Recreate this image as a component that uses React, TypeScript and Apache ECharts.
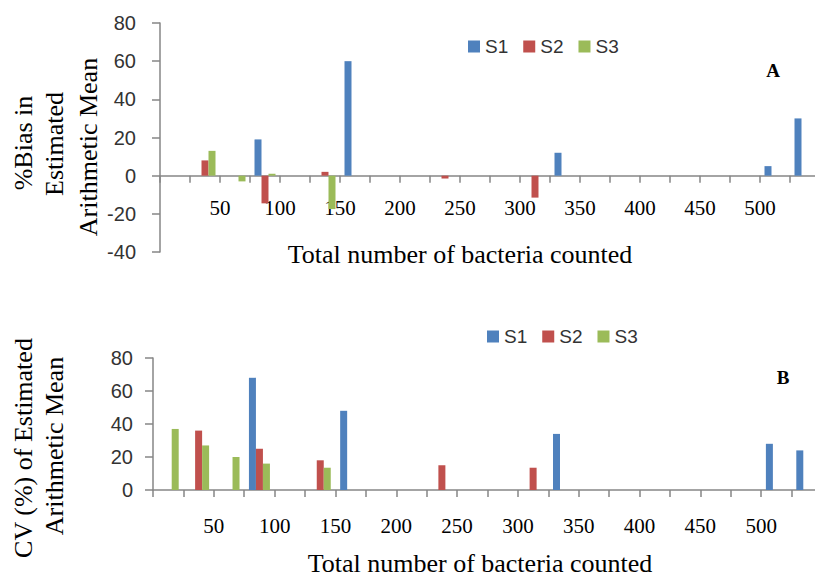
import React, { useEffect, useRef } from "react";
import * as echarts from "echarts";

// 22 equal-width count bins (hidden category labels)
const bins = ["1", "2", "3", "4", "5", "6", "7", "8", "9", "10", "11", "12", "13", "14", "15", "16", "17", "18", "19", "20", "21", "22"];

// Panel A: %Bias in estimated arithmetic mean
const biasS1 = [null, null, null, 19, null, null, 60, null, null, null, null, null, null, 12, null, null, null, null, null, null, 5, 30];
const biasS2 = [null, 8, null, -14.5, null, 2, null, null, null, -1.5, null, null, -11.5, null, null, null, null, null, null, null, null, null];
const biasS3 = [null, 13, -3, 1, null, -17.5, null, null, null, null, null, null, null, null, null, null, null, null, null, null, null, null];

// Panel B: CV (%) of estimated arithmetic mean
const cvS1 = [null, null, null, 68, null, null, 48, null, null, null, null, null, null, 34, null, null, null, null, null, null, 28, 24];
const cvS2 = [null, 36, null, 25, null, 18, null, null, null, 15, null, null, 13.5, null, null, null, null, null, null, null, null, null];
const cvS3 = [37, 27, 20, 16, null, 13.5, null, null, null, null, null, null, null, null, null, null, null, null, null, null, null, null];

// Count tick labels shown below each panel
const countLabels = [50, 100, 150, 200, 250, 300, 350, 400, 450, 500];
const seriesNames = ["S1", "S2", "S3"];
const colors = ["#4F81BD", "#C0504D", "#9BBB59"];

const AXIS = "#868686";
const SERIF = "'Liberation Serif', 'Times New Roman', serif";
const SANS = "'Liberation Sans', Arial, sans-serif";

export default function App() {
  const ref = useRef<HTMLDivElement>(null);
  useEffect(() => {
    if (!ref.current) return;
    const chart = echarts.init(ref.current, null, { renderer: "svg" });

    const catAxis = (gridIndex: number) => ({
      type: "category",
      gridIndex,
      data: bins,
      position: "bottom",
      axisLine: { show: true, onZero: true, lineStyle: { color: AXIS, width: 1.5 } },
      axisTick: { show: true, length: 7, lineStyle: { color: AXIS, width: 1.5 } },
      axisLabel: { show: false },
      splitLine: { show: false },
    });
    const countAxis = (gridIndex: number, offset: number, margin: number) => ({
      type: "value",
      gridIndex,
      min: 0,
      max: 550,
      interval: 50,
      position: "bottom",
      offset,
      axisLine: { show: false, onZero: false },
      axisTick: { show: false },
      splitLine: { show: false },
      axisLabel: {
        show: true,
        margin,
        fontFamily: SERIF,
        fontSize: 21,
        color: "#000",
        formatter: (v: number) => (countLabels.indexOf(v) >= 0 ? String(v) : ""),
      },
    });
    const valAxis = (gridIndex: number, min: number, margin: number) => ({
      type: "value",
      gridIndex,
      min,
      max: 80,
      interval: 20,
      axisLine: { show: true, lineStyle: { color: AXIS, width: 1.5 } },
      axisTick: { show: true, length: 8, lineStyle: { color: AXIS, width: 1.5 } },
      splitLine: { show: false },
      axisLabel: { margin, fontFamily: SANS, fontSize: 20, color: "#333" },
    });

    const bar = (name: string, data: (number | null)[], color: string, axisIdx: number, yIdx: number) => ({
      type: "bar",
      name,
      data,
      xAxisIndex: axisIdx,
      yAxisIndex: yIdx,
      barWidth: 7,
      barGap: "0%",
      itemStyle: { color },
    });

    const legend = (left: number, top: number) => ({
      left,
      top,
      orient: "horizontal",
      icon: "rect",
      itemWidth: 12,
      itemHeight: 12,
      itemGap: 15,
      data: seriesNames,
      textStyle: { fontFamily: SANS, fontSize: 19, color: "#333" },
    });

    const titleFont = { fontFamily: SERIF, fontSize: 26, fill: "#000" };
    const vText = (text: string, x: number, y: number) => ({
      type: "text",
      x,
      y,
      rotation: Math.PI / 2,
      style: { text, ...titleFont, align: "center", verticalAlign: "middle" },
    });
    const hText = (text: string, x: number, y: number, extra: any = {}) => ({
      type: "text",
      x,
      y,
      style: { text, ...titleFont, align: "center", verticalAlign: "middle", ...extra },
    });

    chart.setOption({
      animation: false,
      backgroundColor: "#fff",
      grid: [
        { left: 160, top: 23, width: 660, height: 229, containLabel: false, outerBoundsMode: "none" },
        { left: 153, top: 358, width: 669, height: 132, containLabel: false, outerBoundsMode: "none" },
      ],
      xAxis: [catAxis(0), countAxis(0, -55, 0), catAxis(1), countAxis(1, 0, 25)],
      yAxis: [valAxis(0, -40, 24), valAxis(1, 0, 20)],
      legend: [legend(463, 32), legend(482, 322)],
      series: [
        bar("S1", biasS1, colors[0], 0, 0),
        bar("S2", biasS2, colors[1], 0, 0),
        bar("S3", biasS3, colors[2], 0, 0),
        bar("S1", cvS1, colors[0], 2, 1),
        bar("S2", cvS2, colors[1], 2, 1),
        bar("S3", cvS3, colors[2], 2, 1),
      ],
      graphic: [
        vText("%Bias in", 23, 143),
        vText("Estimated", 54, 144),
        vText("Arithmetic Mean", 88, 147),
        vText("CV (%) of Estimated", 23, 448),
        vText("Arithmetic Mean", 54, 446),
        hText("Total number of bacteria counted", 460, 254),
        hText("Total number of bacteria counted", 480, 563),
        hText("A", 773, 70, { fontSize: 19, fontWeight: "bold" }),
        hText("B", 783, 377, { fontSize: 19, fontWeight: "bold" }),
      ],
    });
    return () => chart.dispose();
  }, []);
  return <div ref={ref} style={{ position: "absolute", left: 0, top: 0, width: 815, height: 576 }} />;
}
